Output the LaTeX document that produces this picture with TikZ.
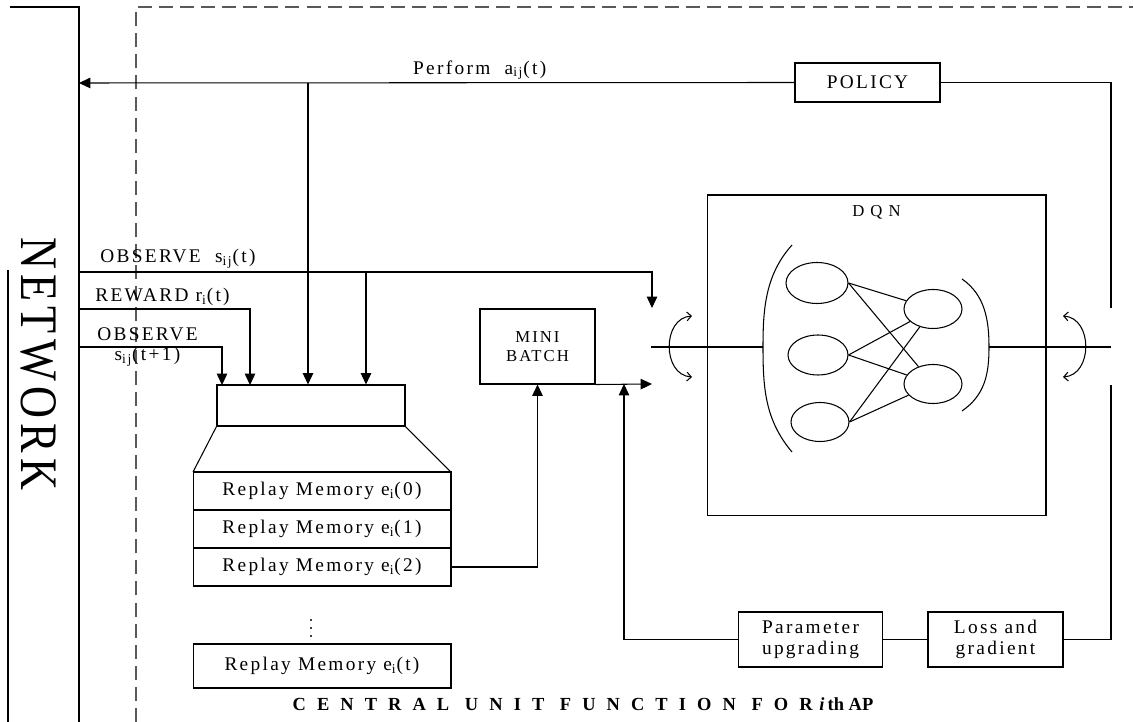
\documentclass[tikz,border=0pt]{standalone}
\usepackage{graphicx}
\usepackage{fontspec}
\setmainfont{Liberation Serif}[LetterSpace=12]
\newfontfamily\netfont{Liberation Serif}[LetterSpace=12]
\usetikzlibrary{positioning,shapes.geometric,arrows.meta}

\begin{document}
\begin{tikzpicture}[x=0.02cm, y=-0.02cm, line width=0.6pt,
                    font=\fontsize{11}{12}\selectfont,
                    box node/.style={draw, rectangle, inner sep=0pt, align=center},
                    cell node/.style={draw, rectangle, inner sep=0pt, outer sep=0pt,
                                      minimum width=5.16cm, minimum height=0.76cm},
                    neuron/.style={draw, ellipse, inner sep=0pt,
                                   minimum width=1.16cm, minimum height=0.78cm},
                    arr/.style={-{Triangle[length=6.5pt,width=6pt]}},
                    swap arr/.style={{Straight Barb[length=2.5pt,width=5pt]}-{Straight Barb[length=2.5pt,width=5pt]}},
                    unit border/.style={dashed, dash pattern=on 8pt off 4pt, draw=black!65}]

  \useasboundingbox (0,0) rectangle (1133,722);

  % network side
  \draw (10,7) -- (79,7) -- (79,722);
  \draw (8,270) -- (8,722);
  \node[rotate=-90] (net) at (39,364)
       {\scalebox{0.84}[1]{\netfont\fontsize{30}{30}\selectfont NETWORK}};

  \draw[unit border] (136,722) -- (136,7) -- (1133,7);

  \coordinate (netP) at (79,83);
  \coordinate (obsA) at (79,272);
  \coordinate (rewA) at (79,309);
  \coordinate (nxtA) at (79,347);
  \coordinate (tapA) at (308,83);
  \coordinate (tapB) at (366,272);
  \coordinate (rewB) at (250,385);
  \coordinate (nxtB) at (222,385);
  \coordinate (inT) at (652,308);
  \coordinate (inB) at (652,384);
  \coordinate (inL) at (651,347);
  \coordinate (upJ) at (624,384);
  \coordinate (fbTop) at (1111,308);
  \coordinate (fbBot) at (1111,385);
  \coordinate (outR) at (1111,347);

  \node[box node, minimum width=2.9cm, minimum height=0.78cm] (policy) at (867.5,82.5) {POLICY};
  \node[box node, minimum width=2.3cm, minimum height=1.5cm,
        font=\fontsize{9.5}{11}\selectfont] (mini) at (537.5,346.5) {MINI\\BATCH};
  \node[box node, minimum width=3.76cm, minimum height=0.82cm] (mem) at (311,405.5) {};

  \node[cell node] (m0) at (322,491) {Replay Memory e\textsubscript{i}(0)};
  \node[cell node] (m1) [below=0pt of m0] {Replay Memory e\textsubscript{i}(1)};
  \node[cell node] (m2) [below=0pt of m1] {Replay Memory e\textsubscript{i}(2)};
  \foreach \d in {620,628,636}
    \fill (311,\d) circle (0.65pt);
  \node[cell node, minimum height=0.88cm] (mt) at (322,666) {Replay Memory e\textsubscript{i}(t)};

  \node[box node, minimum width=2.88cm, minimum height=1.1cm] (param) at (810.5,639.5) {Parameter\\upgrading};
  \node[box node, minimum width=2.7cm, minimum height=1.1cm] (loss) at (995.5,639.5) {Loss and\\gradient};

  % DQN
  \node[box node, minimum width=6.78cm, minimum height=6.42cm] (dqn) at (876.5,355.5) {};
  \node[font=\fontsize{9.5}{11}\selectfont] (dqnt) [below=0.1cm of dqn.north] {D Q N};
  \node[neuron, minimum width=1.24cm, minimum height=0.82cm] (l1) at (817,283) {};
  \node[neuron, minimum width=1.2cm, minimum height=0.8cm] (l2) at (818,355) {};
  \node[neuron] (l3) at (820,422) {};
  \node[neuron] (r1) at (933,309) {};
  \node[neuron] (r2) at (933,384) {};
  \foreach \a in {l1,l2,l3}
    \foreach \b in {r1,r2}
      \draw (\a.east) -- (\b);

  \coordinate (brL) at (763,347);
  \coordinate (brR) at (989,347);
  \draw (792,245) .. controls (765,275) and (763,310) .. (brL)
                  .. controls (763,388) and (765,420) .. (792,452);
  \draw (962,279) .. controls (985,295) and (989,320) .. (brR)
                  .. controls (989,374) and (985,395) .. (962,411);
  \draw (inL) -- (brL);
  \draw (brR) -- (outR);
  \draw[swap arr] (692,316) .. controls (662,318) and (662,375) .. (692,377);
  \draw[swap arr] (1063,316) .. controls (1093,318) and (1093,375) .. (1063,377);

  % signals
  \draw[arr] (policy.west) -- (netP)
       node[pos=0.44, above=-2pt] (perf) {Perform~~a\textsubscript{ij}(t)};
  \draw (policy.east) -| (fbTop);
  \draw (loss.east) -| (fbBot);
  \draw (param.east) -- (loss.west);
  \draw[arr] (param.west) -| (upJ);
  \draw[arr] (mini.south east) -- (inB);
  \draw[arr] (m2.east) -| (mini.south);

  \draw[arr] (obsA) -| (inT);
  \draw[arr] (tapA) -- (mem.north -| tapA);
  \draw[arr] (tapB) -- (mem.north -| tapB);
  \draw[arr] (rewA) -| (rewB);
  \draw[arr] (nxtA) -| (nxtB);
  \draw (mem.south west) -- (m0.north west);
  \draw (mem.south east) -- (m0.north east);

  \node[anchor=west] (obsl) at (94,259) {OBSERVE~~s\textsubscript{ij}(t)};
  \node[anchor=west] (rewl) at (89,297) {REWARD r\textsubscript{i}(t)};
  \node[align=center, font=\fontsize{11}{11.5}\selectfont] (nxtl) at (147.5,347)
       {OBSERVE\\s\textsubscript{ij}(t+1)};

  \node[font=\fontsize{10.5}{12}\selectfont\bfseries] (title) at (583,704)
       {{\addfontfeature{LetterSpace=60}CENTRAL UNIT FUNCTION FOR}~{\addfontfeature{LetterSpace=0}\textit{i}\,th~AP}};

\end{tikzpicture}
\end{document}
